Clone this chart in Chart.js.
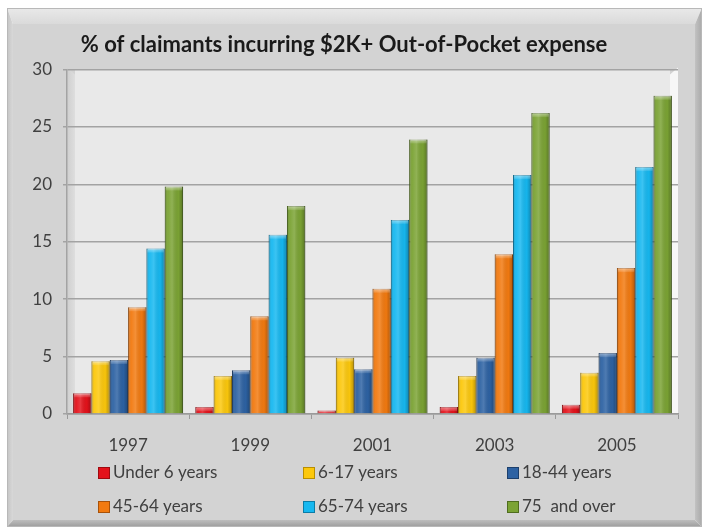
<!DOCTYPE html>
<html>
<head>
<meta charset="utf-8">
<script src="https://cdn.jsdelivr.net/npm/chart.js@4/dist/chart.umd.min.js"></script>
<style>
  html, body { margin: 0; padding: 0; background: #fff; }
  canvas { display: block; }
</style>
</head>
<body>
<canvas id="chart" width="707" height="529"></canvas>
<script>
const years = ["1997", "1999", "2001", "2003", "2005"];
const groupNames = ["Under 6 years", "6-17 years", "18-44 years", "45-64 years", "65-74 years", "75  and over"];
const under6 = [1.8, 0.6, 0.3, 0.6, 0.8];
const age6to17 = [4.6, 3.3, 4.9, 3.3, 3.6];
const age18to44 = [4.7, 3.8, 3.9, 4.9, 5.3];
const age45to64 = [9.3, 8.5, 10.9, 13.9, 12.7];
const age65to74 = [14.4, 15.6, 16.9, 20.8, 21.5];
const age75plus = [19.8, 18.1, 23.9, 26.2, 27.7];
const yTicks = [0, 5, 10, 15, 20, 25, 30];

const fills = ["#e4121b", "#fcc80c", "#2d62a3", "#f27a10", "#16b8f0", "#7ba334"];
const edges = ["#9e0a10", "#b98e00", "#1c3f6c", "#a8520a", "#0b7ca6", "#4f6d1e"];
const textColor = "#404040";
const fontFamily = "Lato, 'Liberation Sans', sans-serif";

const series = [under6, age6to17, age18to44, age45to64, age65to74, age75plus];

// beveled grey frame and the 3D-ish plot walls
const framePlugin = {
  id: "frame",
  beforeDraw(chart) {
    const c = chart.ctx;
    const a = chart.chartArea;
    c.save();
    c.fillStyle = "#ffffff";
    c.fillRect(0, 0, chart.width, chart.height);

    const L = 7, T = 8, R = 702, B = 527;
    const il = 13, it = 24, ir = 695, ib = 520;
    // top bevel
    let g = c.createLinearGradient(0, T, 0, it);
    g.addColorStop(0, "#e9e9e9");
    g.addColorStop(1, "#dadada");
    c.fillStyle = g;
    c.beginPath();
    c.moveTo(L, T); c.lineTo(R, T); c.lineTo(ir, it); c.lineTo(il, it); c.closePath();
    c.fill();
    // left bevel
    g = c.createLinearGradient(L, 0, il, 0);
    g.addColorStop(0, "#c4c4c4");
    g.addColorStop(1, "#d8d8d8");
    c.fillStyle = g;
    c.beginPath();
    c.moveTo(L, T); c.lineTo(il, it); c.lineTo(il, ib); c.lineTo(L, B); c.closePath();
    c.fill();
    // right bevel
    g = c.createLinearGradient(ir, 0, R, 0);
    g.addColorStop(0, "#c2c2c2");
    g.addColorStop(1, "#a9a9a9");
    c.fillStyle = g;
    c.beginPath();
    c.moveTo(R, T); c.lineTo(R, B); c.lineTo(ir, ib); c.lineTo(ir, it); c.closePath();
    c.fill();
    // bottom bevel
    g = c.createLinearGradient(0, ib, 0, B);
    g.addColorStop(0, "#bdbdbd");
    g.addColorStop(1, "#9c9c9c");
    c.fillStyle = g;
    c.beginPath();
    c.moveTo(L, B); c.lineTo(il, ib); c.lineTo(ir, ib); c.lineTo(R, B); c.closePath();
    c.fill();
    // face
    c.fillStyle = "#d3d3d3";
    c.fillRect(il, it, ir - il, ib - it);
    c.strokeStyle = "#b8b8b8";
    c.lineWidth = 1;
    c.strokeRect(L + 0.5, T + 0.5, R - L - 1, B - T - 1);

    // plot walls
    const wall = 8;
    c.fillStyle = "#e9e9e9";
    c.fillRect(a.left + wall, a.top, a.right - a.left - 2 * wall, a.bottom - a.top);
    g = c.createLinearGradient(a.left, 0, a.left + wall, 0);
    g.addColorStop(0, "#cfcfcf");
    g.addColorStop(1, "#dedede");
    c.fillStyle = g;
    c.beginPath();
    c.moveTo(a.left, a.top - 2); c.lineTo(a.left + wall, a.top + 5);
    c.lineTo(a.left + wall, a.bottom); c.lineTo(a.left, a.bottom); c.closePath();
    c.fill();
    c.fillStyle = "#f7f7f7";
    c.beginPath();
    c.moveTo(a.right - wall, a.top + 5); c.lineTo(a.right, a.top - 2);
    c.lineTo(a.right, a.bottom); c.lineTo(a.right - wall, a.bottom); c.closePath();
    c.fill();
    c.restore();
  }
};

// rounded shading on each bar
const shadePlugin = {
  id: "shade",
  afterDatasetsDraw(chart) {
    const c = chart.ctx;
    c.save();
    chart.data.datasets.forEach((ds, i) => {
      chart.getDatasetMeta(i).data.forEach(bar => {
        const x0 = bar.x - bar.width / 2;
        const w = bar.width;
        const h = bar.base - bar.y;
        if (h <= 0) return;
        const g = c.createLinearGradient(x0, 0, x0 + w, 0);
        g.addColorStop(0, "rgba(0,0,0,0.22)");
        g.addColorStop(0.18, "rgba(255,255,255,0.05)");
        g.addColorStop(0.4, "rgba(255,255,255,0.16)");
        g.addColorStop(0.75, "rgba(0,0,0,0.02)");
        g.addColorStop(1, "rgba(0,0,0,0.28)");
        c.fillStyle = g;
        c.fillRect(x0, bar.y, w, h);
        const capH = Math.min(4, h);
        const cg = c.createLinearGradient(0, bar.y, 0, bar.y + capH);
        cg.addColorStop(0, "rgba(255,255,255,0.45)");
        cg.addColorStop(1, "rgba(255,255,255,0.1)");
        c.fillStyle = cg;
        c.fillRect(x0 + 1, bar.y, w - 2, capH);
      });
    });
    c.restore();
  }
};

// legend laid out in three fixed columns
const gridLegendPlugin = {
  id: "gridLegend",
  afterDraw(chart) {
    const c = chart.ctx;
    const colX = [98, 303, 507];
    const rowY = [473, 507];
    c.save();
    c.font = "17px " + fontFamily;
    c.textBaseline = "middle";
    c.textAlign = "left";
    chart.data.datasets.forEach((ds, i) => {
      const x = colX[i % 3];
      const y = rowY[Math.floor(i / 3)];
      c.fillStyle = ds.backgroundColor;
      c.fillRect(x, y - 6, 12, 12);
      c.strokeStyle = ds.borderColor;
      c.lineWidth = 1;
      c.strokeRect(x + 0.5, y - 5.5, 11, 11);
      c.fillStyle = textColor;
      c.fillText(ds.label, x + 15, y);
    });
    c.restore();
  }
};

const ctx = document.getElementById("chart").getContext("2d");
new Chart(ctx, {
  type: "bar",
  data: {
    labels: years,
    datasets: series.map((values, i) => ({
      label: groupNames[i],
      data: values,
      backgroundColor: fills[i],
      borderColor: edges[i],
      borderWidth: 1,
      categoryPercentage: 0.9,
      barPercentage: 1.0
    }))
  },
  options: {
    responsive: false,
    animation: false,
    layout: { padding: { left: 10, right: 29, top: 0, bottom: 73 } },
    plugins: {
      legend: { display: false },
      tooltip: { enabled: false },
      title: {
        display: true,
        text: "% of claimants incurring $2K+ Out-of-Pocket expense",
        color: "#1a1a1a",
        font: { family: fontFamily, size: 22, weight: "bold" },
        padding: { top: 32, bottom: 11 }
      }
    },
    scales: {
      x: {
        afterFit: scale => { scale.height = 42; },
        grid: {
          display: true,
          drawOnChartArea: false,
          drawTicks: true,
          tickLength: 5,
          color: "#9a9a9a"
        },
        border: { display: true, color: "#9a9a9a", width: 1.5 },
        ticks: {
          color: textColor,
          font: { family: fontFamily, size: 17 },
          padding: 16
        }
      },
      y: {
        min: 0,
        max: 30,
        afterFit: scale => { scale.width = 57; },
        afterBuildTicks: scale => { scale.ticks = yTicks.map(v => ({ value: v })); },
        grid: {
          color: "#a3a3a3",
          lineWidth: 1.5,
          tickLength: 4
        },
        border: { display: true, color: "#a3a3a3", width: 1.5 },
        ticks: {
          color: textColor,
          font: { family: fontFamily, size: 17 },
          padding: 11
        }
      }
    }
  },
  plugins: [framePlugin, shadePlugin, gridLegendPlugin]
});
</script>
</body>
</html>
